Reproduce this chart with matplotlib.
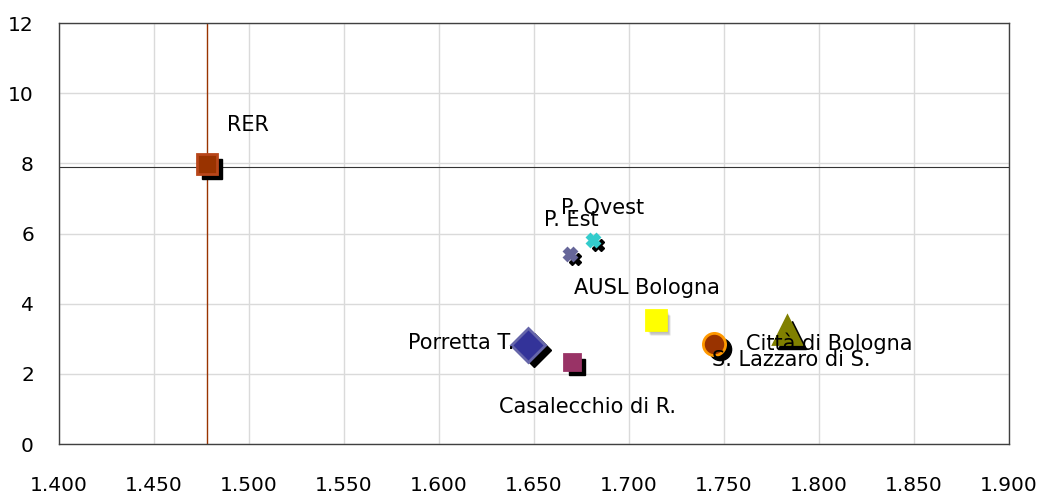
import matplotlib
matplotlib.use('Agg')
from matplotlib import pyplot as plt
from matplotlib import transforms

plt.rcParams['font.family'] = ['DejaVu Sans']

# Distretti / aziende: valori (x, y)
nomi = ['RER', 'P. Ovest', 'P. Est', 'AUSL Bologna', 'Porretta T.',
        'Casalecchio di R.', 'Città di Bologna', 'S. Lazzaro di S.']
valori_x = [1.478, 1.681, 1.669, 1.714, 1.647, 1.670, 1.783, 1.745]
valori_y = [7.98, 5.81, 5.41, 3.53, 2.82, 2.34, 3.25, 2.85]

# Linee di riferimento regionali
rif_x = 1.478
rif_y = 7.9

# Stile dei marker: forma, dimensione, colore, bordo
marker = ['s', 'X', 'X', 's', 'D', 's', '^', 'o']
dimensione = [14, 8, 8, 15, 17, 12, 20, 16]
colore = ['#993300', '#33CCCC', '#666699', '#FFFF00', '#333399', '#993366', '#808000', '#993300']
bordo = ['#B8461A', '#33CCCC', '#666699', '#FFFF00', '#6666AA', '#993366', '#808000', '#FF9900']

# Posizione delle etichette (offset in punti) e allineamento
etich_off = [(14, 28), (7, 23), (1, 24.5), (-6, 23), (-10, 1.5), (11.5, -32.5), (-29.5, -9.5), (-1.5, -11.5)]
etich_ha = ['left', 'center', 'center', 'center', 'right', 'center', 'left', 'left']

fig = plt.figure(figsize=(10.42, 4.94), dpi=100)
ax = fig.add_axes([0.0566, 0.1012, 0.9117, 0.8522])

ax.set_xlim(1.4, 1.9)
ax.set_ylim(0, 12)
ax.set_xticks([1.4 + 0.05 * i for i in range(11)])
ax.set_xticklabels(['%.3f' % (1.4 + 0.05 * i) for i in range(11)])
ax.set_yticks(range(0, 13, 2))
ax.tick_params(axis='both', length=0, labelsize=14.5)
ax.tick_params(axis='x', pad=23)
ax.tick_params(axis='y', pad=18)
ax.grid(color='#DADADA', linewidth=1)
ax.set_axisbelow(True)
for s in ax.spines.values():
    s.set_color('#404040')
    s.set_linewidth(1)

ax.axvline(rif_x, color='#993300', linewidth=1, zorder=2)
ax.axhline(rif_y, color='#333333', linewidth=0.8, zorder=2)

# Ombra dei marker spostata in basso a destra
ombra = transforms.offset_copy(ax.transData, fig=fig, x=3.8, y=-3.8, units='points')

for i in range(len(nomi)):
    if nomi[i] == 'AUSL Bologna':
        for k in range(3):
            om = transforms.offset_copy(ax.transData, fig=fig, x=1.5 + k, y=-1.5 - k, units='points')
            ax.plot(valori_x[i], valori_y[i], marker[i], ms=dimensione[i], color='#808080',
                    alpha=0.25, mec='none', transform=om, zorder=3)
    else:
        ax.plot(valori_x[i], valori_y[i], marker[i], ms=dimensione[i], color='black',
                mec='black', transform=ombra, zorder=3)
    ax.plot(valori_x[i], valori_y[i], marker[i], ms=dimensione[i], color=colore[i],
            mec=bordo[i], mew=2, zorder=4)
    ax.annotate(nomi[i], (valori_x[i], valori_y[i]), xytext=etich_off[i],
                textcoords='offset points', ha=etich_ha[i], va='center', fontsize=15, zorder=5)

plt.savefig('out.png', dpi=100)
